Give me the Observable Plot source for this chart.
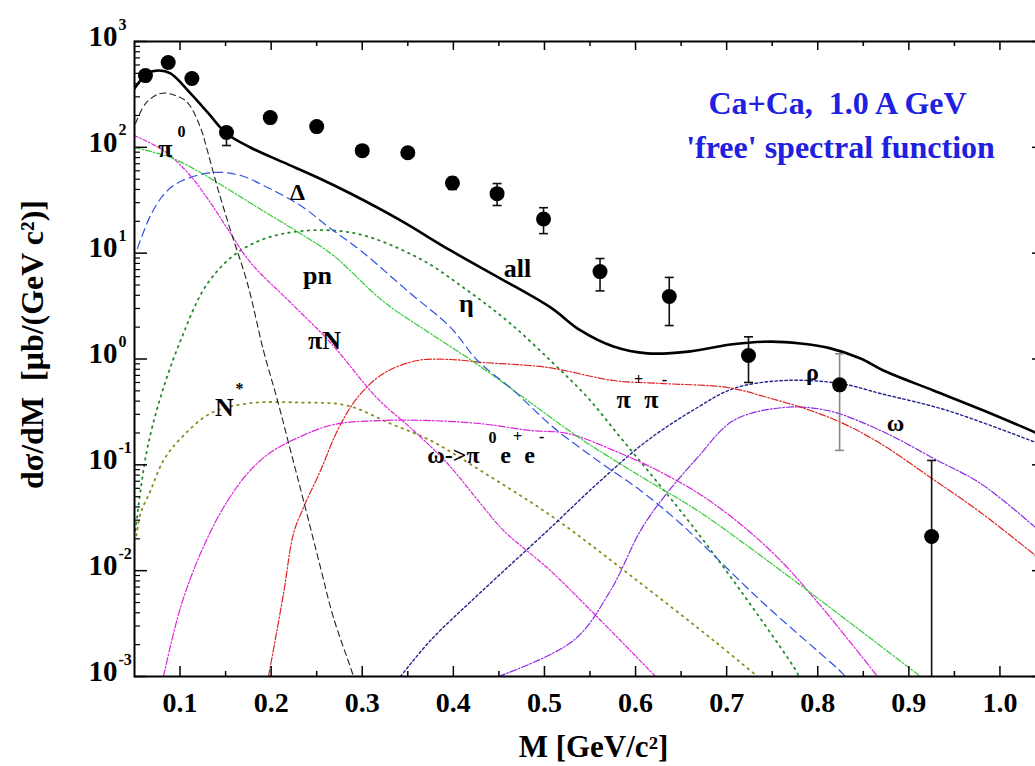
<!DOCTYPE html>
<html><head><meta charset="utf-8">
<script src="https://cdn.jsdelivr.net/npm/d3@7"></script>
<script src="https://cdn.jsdelivr.net/npm/@observablehq/plot@0.6"></script>
<style>html,body{margin:0;padding:0;background:#fff;} #chart svg{display:block;}</style>
</head><body><div id="chart"></div>
<script>
// ---- data (M in GeV/c^2, dsigma/dM in mub/(GeV c^2)) ----
const allCurve = [[0.050,360],[0.0643,499],[0.0763,532],[0.0895,499],[0.1115,323],[0.1312,209],[0.151,135],[0.1773,99.6],[0.2136,72],[0.2509,51.9],[0.2871,36.6],[0.342,20.4],[0.3969,10.6],[0.4518,5.76],[0.5066,3.07],[0.5396,1.86],[0.5758,1.31],[0.6131,1.13],[0.6603,1.18],[0.7042,1.37],[0.7481,1.46],[0.7811,1.40],[0.814,1.26],[0.847,1.01],[0.872,0.778],[0.927,0.504],[0.982,0.326],[1.039,0.202]];
const pi0Curve = [[0.0511,168],[0.0621,259],[0.0785,323],[0.095,309],[0.1082,265],[0.1224,154],[0.130,93],[0.1411,41.7],[0.1554,16.4],[0.174,5.17],[0.1916,1.20],[0.207,0.405],[0.2212,0.137],[0.2355,0.046],[0.2542,0.0107],[0.2684,0.0036],[0.2871,0.00122],[0.2904,0.001]];
const deltaCurve = [[0.0533,11.1],[0.0676,22.7],[0.084,37.4],[0.1027,48.6],[0.1367,57.8],[0.1664,54.2],[0.196,41.7],[0.2322,28.2],[0.2651,17.1],[0.2981,10.6],[0.353,4.16],[0.3969,1.99],[0.4265,0.968],[0.466,0.504],[0.51,0.225],[0.5582,0.11],[0.6054,0.0572],[0.6493,0.0279],[0.7372,0.00522],[0.8272,0.00107],[0.83,0.001]];
const pnCurve = [[0.05,99.6],[0.0895,80.2],[0.1224,57.8],[0.1587,37.4],[0.196,23.7],[0.2322,15.3],[0.2684,9.5],[0.3233,3.49],[0.3749,1.74],[0.4265,0.887],[0.477,0.433],[0.5396,0.177],[0.6131,0.0711],[0.668,0.037],[0.7372,0.0139],[0.825,0.00377],[0.9128,0.001]];
const piNCurve = [[0.05,129],[0.0818,93.3],[0.1082,57.8],[0.1301,32.9],[0.152,17.1],[0.1773,8.16],[0.2212,3.42],[0.2651,1.43],[0.3167,0.424],[0.3563,0.211],[0.3936,0.103],[0.4298,0.0431],[0.455,0.024],[0.5066,0.01],[0.5615,0.0034],[0.622,0.001]];
const etaCurve = [[0.0511,0.024],[0.0566,0.057],[0.0643,0.146],[0.0785,0.433],[0.1005,1.49],[0.1301,5.17],[0.1664,10.6],[0.2136,15.3],[0.2871,15.7],[0.3607,9.1],[0.4155,4.44],[0.4627,2.16],[0.51,0.906],[0.5473,0.433],[0.5835,0.181],[0.6197,0.0759],[0.6603,0.0279],[0.7152,0.00649],[0.7778,0.00107],[0.779,0.001]];
const nStarCurve = [[0.0522,0.0215],[0.0566,0.0347],[0.0676,0.0572],[0.0818,0.11],[0.1005,0.177],[0.1334,0.306],[0.174,0.38],[0.2322,0.388],[0.2838,0.363],[0.331,0.245],[0.3749,0.17],[0.4298,0.0883],[0.51,0.0318],[0.5945,0.009],[0.6856,0.00219],[0.7339,0.001]];
const omegaDalitzCurve = [[0.0818,0.001],[0.1005,0.00449],[0.1224,0.0145],[0.1477,0.0395],[0.174,0.0828],[0.1993,0.131],[0.2322,0.185],[0.2684,0.24],[0.32,0.262],[0.3749,0.262],[0.4298,0.245],[0.4847,0.211],[0.5253,0.198],[0.5758,0.137],[0.6307,0.0828],[0.6856,0.0431],[0.7591,0.0125],[0.8656,0.001]];
const pipiCurve = [[0.1971,0.001],[0.2136,0.00608],[0.2245,0.0224],[0.2355,0.0395],[0.2542,0.0883],[0.2728,0.211],[0.2948,0.433],[0.3233,0.729],[0.3607,0.968],[0.3969,0.989],[0.4331,0.927],[0.5034,0.832],[0.5758,0.626],[0.6307,0.586],[0.7009,0.538],[0.7448,0.433],[0.792,0.326],[0.8283,0.245],[0.8689,0.159],[0.9238,0.0759],[0.9787,0.0355],[1.039,0.0139]];
const rhoCurve = [[0.342,0.001],[0.3749,0.00219],[0.4298,0.00622],[0.5034,0.0239],[0.5582,0.0667],[0.6131,0.17],[0.668,0.348],[0.7075,0.526],[0.7624,0.626],[0.825,0.586],[0.8689,0.472],[0.9424,0.326],[1.039,0.163]];
const omegaCurve = [[0.4496,0.001],[0.5319,0.00219],[0.5725,0.00649],[0.6054,0.0239],[0.6307,0.0491],[0.668,0.117],[0.7075,0.262],[0.7624,0.348],[0.8107,0.326],[0.8689,0.211],[0.9314,0.11],[0.9787,0.0667],[1.039,0.0256]];

// measured data points with error bars
const pointM  = [0.062, 0.087, 0.113, 0.151, 0.199, 0.250, 0.300, 0.350, 0.399, 0.448, 0.499, 0.561, 0.637, 0.724, 0.824, 0.925];
const pointV  = [476, 633, 447, 138, 191, 157, 93, 89, 46, 36.5, 21, 6.7, 3.9, 1.08, 0.57, 0.021];
const pointLo = [null, null, null, 104, null, null, null, null, 40, 28.2, 15.3, 4.4, 2.07, 0.60, 0.137, 0.0001];
const pointHi = [null, null, null, 154, null, null, null, null, 52, 45.5, 26.9, 8.9, 5.9, 1.62, 1.12, 0.11];
const pointGrey = [false,false,false,false,false,false,false,false,false,false,false,false,false,false,true,false];

const xMajorTicks = [0.1,0.2,0.3,0.4,0.5,0.6,0.7,0.8,0.9,1.0];
const xMinorTicks = [0.15,0.25,0.35,0.45,0.55,0.65,0.75,0.85,0.95,1.05];
const yMajorTicks = [1e-3,1e-2,1e-1,1e0,1e1,1e2,1e3];
const yExponents  = ["-3","-2","-1","0","1","2","3"];

const curveLabels = [
  {m:0.084, v:97.5, t:"π", s:26},
  {m:0.2289, v:37.4, t:"Δ", s:24},
  {m:0.2509, v:6.15, t:"pn", s:26},
  {m:0.2586, v:1.49, t:"πN", s:26},
  {m:0.1488, v:0.348, t:"N", s:26},
  {m:0.4144, v:3.34, t:"η", s:26},
  {m:0.4704, v:7.16, t:"all", s:26},
  {m:0.5868, v:0.41, t:"π", s:26},
  {m:0.6175, v:0.41, t:"π", s:26},
  {m:0.4, v:0.1225, t:"ω->π", s:24},
  {m:0.4572, v:0.1225, t:"e", s:24},
  {m:0.4836, v:0.1225, t:"e", s:24},
  {m:0.7942, v:0.745, t:"ρ", s:24},
  {m:0.8853, v:0.245, t:"ω", s:24}
];
const superLabels = [
  {m:0.1016, v:141, t:"0"},
  {m:0.1653, v:0.526, t:"*"},
  {m:0.6032, v:0.64, t:"+"},
  {m:0.6318, v:0.64, t:"-"},
  {m:0.443, v:0.181, t:"0"},
  {m:0.4704, v:0.185, t:"+"},
  {m:0.4968, v:0.185, t:"-"}
];
const titleLines = [
  {m:0.8217, v:259, t:"Ca+Ca,  1.0 A GeV"},
  {m:0.825, v:99.6, t:"'free' spectral function"}
];
const xTitle = "M [GeV/c²]";
const yTitle = "dσ/dM  [μb/(GeV c²)]";

// ---- build ----
const points = pointM.map((m,i)=>({m, v:pointV[i], lo:pointLo[i], hi:pointHi[i], grey:pointGrey[i]}));
const withErr = points.filter(d=>d.lo!=null);
const FONT = "Liberation Serif, Times New Roman, serif";
const capSymbol = {draw(ctx, size){ const w = Math.sqrt(size/Math.PI); ctx.moveTo(-w,0); ctx.lineTo(w,0); }};

function curve(data, stroke, strokeWidth, dash){
  return Plot.line(data, {x: d=>d[0], y: d=>d[1], curve: "catmull-rom", stroke, strokeWidth, strokeDasharray: dash, clip: true});
}
const innerW = 911, innerH = 635;

const chart = Plot.plot({
  width: 1035, height: 766,
  marginLeft: 134, marginRight: -10, marginTop: 41, marginBottom: 90,
  style: {background: "white"},
  x: {type: "linear", domain: [0.05, 1.05], axis: null},
  y: {type: "log", domain: [1e-3, 1e3], axis: null},
  marks: [
    curve(nStarCurve, "#8a8a1e", 1.8, "1.5,5"),
    curve(etaCurve, "#22882a", 1.8, "1.5,5"),
    curve(rhoCurve, "#22228f", 1.4, "2.5,2.5"),
    curve(omegaCurve, "#8a2be2", 1.2, "7,2,1.5,2"),
    curve(pipiCurve, "#e02222", 1.2, "7,2,1.5,2"),
    curve(omegaDalitzCurve, "#dd22dd", 1.2, "7,2,1.5,2"),
    curve(piNCurve, "#dd22dd", 1.2, "4,2,1.5,2"),
    curve(pnCurve, "#33cc33", 1.2, "6,2,1.5,2"),
    curve(deltaCurve, "#3050e0", 1.2, "8,5"),
    curve(pi0Curve, "#222", 1.1, "6,4"),
    curve(allCurve, "black", 2.6, null),
    // error bars
    Plot.ruleX(withErr.filter(d=>!d.grey), {x:"m", y1:"lo", y2:"hi", stroke:"#111", strokeWidth:1.6, clip:true}),
    Plot.ruleX(withErr.filter(d=>d.grey), {x:"m", y1:"lo", y2:"hi", stroke:"#888", strokeWidth:1.6, clip:true}),
    Plot.dot(withErr.filter(d=>!d.grey && d.lo>1e-3), {x:"m", y:"lo", symbol: capSymbol, r:4.5, stroke:"#111", strokeWidth:1.6}),
    Plot.dot(withErr.filter(d=>!d.grey), {x:"m", y:"hi", symbol: capSymbol, r:4.5, stroke:"#111", strokeWidth:1.6}),
    Plot.dot(withErr.filter(d=>d.grey), {x:"m", y:"lo", symbol: capSymbol, r:4.5, stroke:"#888", strokeWidth:1.6}),
    Plot.dot(withErr.filter(d=>d.grey), {x:"m", y:"hi", symbol: capSymbol, r:4.5, stroke:"#888", strokeWidth:1.6}),
    Plot.dot(points, {x:"m", y:"v", r:7.5, fill:"black"}),
    // frame and ticks
    Plot.frame({stroke:"black", strokeWidth:2}),
    Plot.tickX(xMajorTicks, {x:d=>d, insetTop: innerH-10, stroke:"black", strokeWidth:1.5}),
    Plot.tickX(xMinorTicks, {x:d=>d, insetTop: innerH-5, stroke:"black", strokeWidth:1.5}),
    Plot.tickX(xMajorTicks, {x:d=>d, insetBottom: innerH-9, stroke:"black", strokeWidth:1.5}),
    Plot.tickX(xMinorTicks, {x:d=>d, insetBottom: innerH-5, stroke:"black", strokeWidth:1.5}),
    Plot.tickY(yMajorTicks, {y:d=>d, insetRight: innerW-13, stroke:"black", strokeWidth:1.5}),
    Plot.tickY(yMajorTicks, {y:d=>d, insetLeft: innerW-13, stroke:"black", strokeWidth:1.5}),
    Plot.tickY(d3.range(-3,3).flatMap(e=>d3.range(2,10).map(k=>k*Math.pow(10,e))), {y:d=>d, insetRight: innerW-6, stroke:"black", strokeWidth:1.2}),
    // tick labels
    Plot.text(xMajorTicks, {x:d=>d, frameAnchor:"bottom", lineAnchor:"middle", dy:27, text:d=>d.toFixed(1), fontSize:28, fontWeight:"bold", fontFamily:FONT, fill:"black"}),
    Plot.text(yMajorTicks, {y:d=>d, frameAnchor:"left", dx:-17, dy:-5, text:()=>"10", textAnchor:"end", fontSize:29, fontWeight:"bold", fontFamily:FONT, fill:"black"}),
    Plot.text(yMajorTicks, {y:d=>d, frameAnchor:"left", dx:-16, dy:-17, text:(d,i)=>yExponents[i], textAnchor:"start", fontSize:16, fontWeight:"bold", fontFamily:FONT, fill:"black"}),
    // axis titles
    Plot.text([xTitle], {frameAnchor:"bottom", x:()=>0.5538, lineAnchor:"middle", textAnchor:"middle", dy:71, text:d=>d, fontSize:31, fontWeight:"bold", fontFamily:FONT, fill:"black"}),
    Plot.text([yTitle], {frameAnchor:"left", dx:-102, dy:130, rotate:-90, text:d=>d, fontSize:32, fontWeight:"bold", fontFamily:FONT, fill:"black"}),
    // curve labels
    Plot.text(curveLabels, {x:"m", y:"v", text:"t", fontSize:d=>d.s, fontWeight:"bold", fontFamily:FONT, fill:"black"}),
    Plot.text(superLabels, {x:"m", y:"v", text:"t", fontSize:16, fontWeight:"bold", fontFamily:FONT, fill:"black"}),
    Plot.text(titleLines, {x:"m", y:"v", text:"t", fontSize:32, fontWeight:"bold", fontFamily:FONT, fill:"#2020e0"})
  ]
});
document.getElementById("chart").append(chart);
</script></body></html>
